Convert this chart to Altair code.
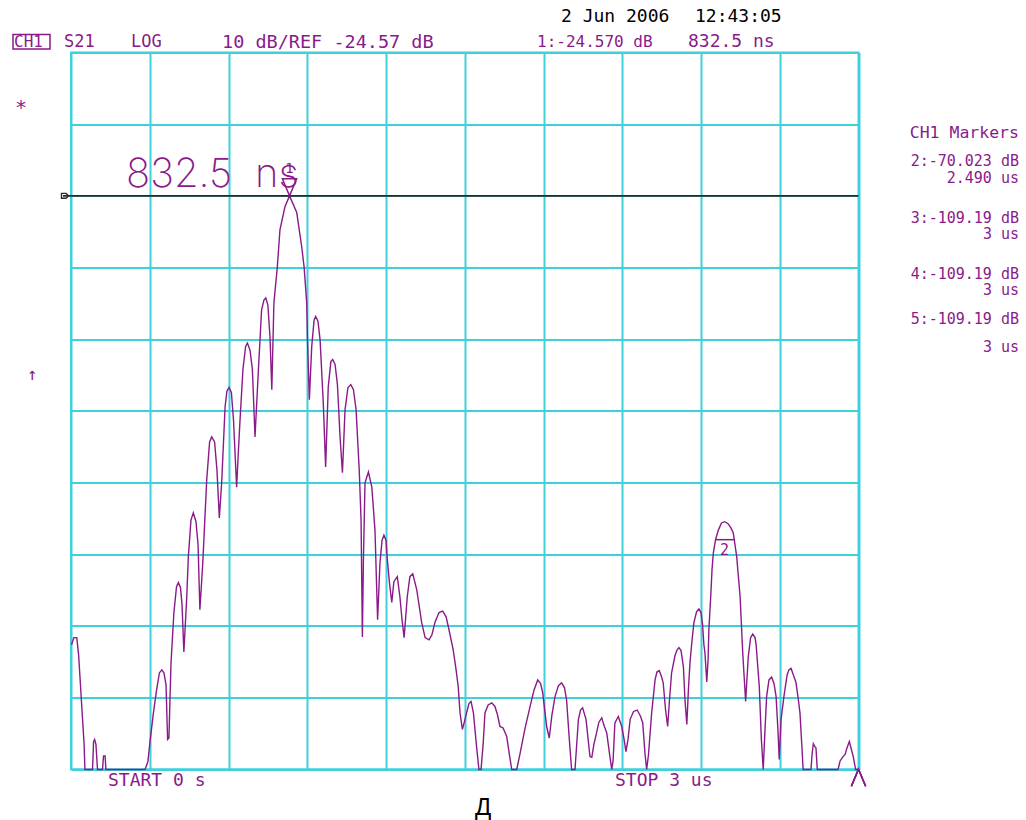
import altair as alt
import pandas as pd

# CH1 S21 time-domain response, LOG MAG, 10 dB/div
TIME_US = [
    0.002, 0.011, 0.022, 0.029, 0.041, 0.050, 0.053, 0.082, 0.086, 0.090,
    0.095, 0.101, 0.120, 0.124, 0.130, 0.133, 0.282, 0.293, 0.301, 0.314,
    0.326, 0.337, 0.346, 0.354, 0.362, 0.368, 0.373, 0.381, 0.392, 0.402,
    0.409, 0.417, 0.423, 0.430, 0.441, 0.447, 0.457, 0.466, 0.476, 0.484,
    0.491, 0.502, 0.517, 0.528, 0.536, 0.547, 0.556, 0.565, 0.574, 0.587,
    0.594, 0.602, 0.611, 0.619, 0.631, 0.638, 0.644, 0.655, 0.665, 0.672,
    0.682, 0.691, 0.701, 0.714, 0.726, 0.735, 0.742, 0.750, 0.758, 0.765,
    0.773, 0.786, 0.796, 0.815, 0.8325, 0.860, 0.879, 0.888, 0.898, 0.901,
    0.908, 0.917, 0.926, 0.932, 0.941, 0.949, 0.961, 0.970, 0.980, 0.990,
    0.997, 1.006, 1.015, 1.025, 1.034, 1.044, 1.055, 1.066, 1.076, 1.086,
    1.098, 1.105, 1.110, 1.114, 1.120, 1.133, 1.146, 1.158, 1.168, 1.177,
    1.185, 1.192, 1.200, 1.205, 1.213, 1.222, 1.230, 1.243, 1.253, 1.261,
    1.269, 1.281, 1.291, 1.302, 1.317, 1.336, 1.349, 1.364, 1.375, 1.387,
    1.402, 1.416, 1.429, 1.440, 1.456, 1.467, 1.475, 1.482, 1.491, 1.499,
    1.507, 1.516, 1.524, 1.533, 1.545, 1.554, 1.562, 1.570, 1.577, 1.589,
    1.603, 1.615, 1.625, 1.634, 1.646, 1.660, 1.670, 1.679, 1.698, 1.710,
    1.730, 1.749, 1.764, 1.778, 1.789, 1.797, 1.812, 1.822, 1.832, 1.844,
    1.857, 1.869, 1.880, 1.888, 1.897, 1.907, 1.920, 1.933, 1.941, 1.949,
    1.962, 1.977, 1.984, 1.992, 2.002, 2.011, 2.022, 2.030, 2.041, 2.053,
    2.060, 2.065, 2.072, 2.085, 2.098, 2.107, 2.114, 2.122, 2.130, 2.143,
    2.157, 2.170, 2.178, 2.187, 2.193, 2.200, 2.212, 2.225, 2.232, 2.241,
    2.250, 2.256, 2.265, 2.273, 2.280, 2.288, 2.301, 2.309, 2.316, 2.324,
    2.333, 2.339, 2.346, 2.352, 2.358, 2.366, 2.373, 2.383, 2.392, 2.400,
    2.406, 2.411, 2.415, 2.422, 2.427, 2.430, 2.437, 2.442, 2.447, 2.455,
    2.466, 2.478, 2.490, 2.503, 2.514, 2.523, 2.536, 2.549, 2.559, 2.570,
    2.580, 2.589, 2.597, 2.606, 2.610, 2.622, 2.630, 2.637, 2.643, 2.650,
    2.659, 2.669, 2.678, 2.686, 2.693, 2.698, 2.705, 2.716, 2.728, 2.735,
    2.743, 2.752, 2.762, 2.771, 2.777, 2.785, 2.789, 2.819, 2.823, 2.828,
    2.834, 2.838, 2.843, 2.922, 2.930, 2.941, 2.949, 2.956, 2.965, 2.973,
    2.980, 2.989, 3.000,
]
LEVEL_DB = [
    -87.2, -86.2, -86.2, -88.6, -95.8, -101.1, -104.6, -104.6, -100.7, -100.4,
    -101.1, -104.6, -104.6, -102.7, -102.7, -104.6, -104.6, -103.5, -100.7, -96.7,
    -93.5, -91.1, -90.7, -91.1, -92.8, -100.4, -100.2, -89.7, -82.7, -79.1,
    -78.5, -79.2, -81.6, -88.2, -80.5, -74.9, -69.8, -68.8, -70.0, -73.2,
    -82.3, -75.8, -64.2, -58.9, -58.2, -58.9, -62.8, -69.5, -64.6, -54.0,
    -51.8, -51.3, -52.0, -55.8, -65.2, -60.0, -55.8, -48.8, -45.6, -45.1,
    -46.1, -48.8, -58.2, -48.8, -40.5, -39.1, -38.8, -39.8, -44.2, -51.6,
    -39.5, -34.5, -29.3, -26.1, -24.57, -26.9, -31.7, -34.5, -39.5, -44.7,
    -53.0, -45.6, -41.9, -41.4, -42.1, -44.7, -53.4, -62.4, -51.2, -47.7,
    -47.4, -48.1, -50.9, -58.2, -63.2, -54.4, -51.3, -50.9, -51.6, -54.4,
    -62.8, -69.8, -86.1, -75.3, -64.6, -63.1, -65.2, -71.2, -83.7, -75.8,
    -72.6, -71.9, -72.6, -75.3, -78.5, -81.3, -78.4, -77.7, -80.5, -83.7,
    -86.2, -80.5, -77.7, -77.3, -79.5, -84.1, -86.2, -86.5, -85.8, -84.0,
    -82.7, -82.5, -83.3, -85.1, -87.9, -90.7, -93.0, -96.7, -99.0, -97.9,
    -96.7, -95.4, -95.1, -96.7, -101.4, -104.6, -104.6, -101.1, -96.7, -95.6,
    -95.3, -95.8, -97.0, -98.6, -98.8, -100.0, -102.5, -104.6, -104.6, -102.5,
    -98.8, -95.8, -93.5, -92.1, -92.6, -93.9, -98.6, -100.2, -97.0, -94.4,
    -92.9, -92.5, -93.2, -94.9, -99.7, -104.6, -104.6, -97.6, -96.3, -96.0,
    -97.6, -102.8, -102.9, -101.1, -99.5, -98.0, -97.4, -98.4, -99.5, -102.8,
    -104.6, -103.4, -98.1, -97.2, -98.6, -100.4, -102.1, -100.4, -97.6, -96.5,
    -96.3, -97.2, -98.1, -102.5, -104.6, -102.5, -96.7, -92.1, -91.0, -90.8,
    -91.7, -92.5, -96.3, -98.6, -94.9, -91.1, -88.7, -87.9, -87.6, -88.0,
    -90.3, -94.9, -98.3, -93.5, -89.7, -86.5, -84.1, -82.6, -82.2, -82.7,
    -84.4, -87.2, -88.3, -92.4, -89.3, -85.1, -80.5, -76.7, -74.4, -72.6,
    -71.2, -70.2, -70.023, -70.3, -70.9, -71.6, -74.9, -80.5, -88.3, -95.1,
    -88.9, -86.2, -85.7, -86.2, -87.2, -93.0, -100.4, -104.6, -99.7, -94.4,
    -92.1, -91.7, -92.6, -94.4, -99.0, -103.2, -97.6, -94.4, -91.4, -90.7,
    -90.5, -91.4, -92.5, -94.9, -96.7, -101.8, -104.6, -104.6, -102.5, -101.0,
    -101.4, -101.6, -104.6, -104.6, -103.4, -102.8, -102.5, -101.6, -100.7, -101.8,
    -102.8, -104.6, -104.6,
]

REF_DB = -24.57
DB_PER_DIV = 10
START_US, STOP_US = 0.0, 3.0

# Markers 1-2 on screen, 3-5 parked below the display floor at STOP
MARKER_ID = ["1", "2"]
MARKER_T = [0.8325, 2.490]
MARKER_DB = [-24.570, -70.023]
OFFSCALE_T = [3.0, 3.0, 3.0]
OFFSCALE_DB = [-109.19, -109.19, -109.19]

TOP_DB = REF_DB + 2 * DB_PER_DIV
BOTTOM_DB = REF_DB - 8 * DB_PER_DIV

# Display geometry (pixels)
LEFT, TOP = 71, 52.5
W, H = 787.5, 716.8
PAD_RIGHT = 1026 - LEFT - W
PAD_BOTTOM = 820 - TOP - H

PURPLE = "#8a1a8a"
CYAN = "#3fd0dc"
MONO = "DejaVu Sans Mono"
THIN = "Inter, Roboto, DejaVu Sans"

trace = pd.DataFrame({"t": TIME_US, "db": LEVEL_DB})
markers = pd.DataFrame({"id": MARKER_ID, "t": MARKER_T, "db": MARKER_DB})
offscale = pd.DataFrame({"t": OFFSCALE_T, "db": OFFSCALE_DB})
offscale["shown"] = offscale["db"].clip(lower=BOTTOM_DB)

x_scale = alt.Scale(domain=[START_US, STOP_US], nice=False, zero=False)
y_scale = alt.Scale(domain=[BOTTOM_DB, TOP_DB], nice=False, zero=False)

x_grid = [START_US + i * (STOP_US - START_US) / 10 for i in range(11)]
y_grid = [BOTTOM_DB + i * DB_PER_DIV for i in range(11)]

grid_axis = dict(grid=True, gridColor=CYAN, gridWidth=2, gridOpacity=1,
                 domain=False, ticks=False, labels=False, title=None)

X = alt.X("t:Q", scale=x_scale, axis=alt.Axis(values=x_grid, **grid_axis))
Y = alt.Y("db:Q", scale=y_scale, axis=alt.Axis(values=y_grid, **grid_axis))

line = alt.Chart(trace).mark_line(color=PURPLE, strokeWidth=1.4,
                                  interpolate="linear").encode(x=X, y=Y)

ref_line = alt.Chart(alt.Data(values=[{"ref": REF_DB}])).mark_rule(
    color="#2b2b2b", strokeWidth=1.6
).encode(y=alt.Y("ref:Q", scale=y_scale), x=alt.value(-8), x2=alt.value(W))

ref_pointer = alt.Chart(alt.Data(values=[{"ref": REF_DB}])).mark_point(
    shape="M-1,-0.7L0.3,-0.7L1,0L0.3,0.7L-1,0.7Z", size=49, filled=False,
    color="#2b2b2b", strokeWidth=1.4, opacity=1
).encode(y=alt.Y("ref:Q", scale=y_scale), x=alt.value(-6))

m1 = markers[markers["id"] == "1"]
m2 = markers[markers["id"] == "2"]

m1_symbol = alt.Chart(m1).mark_point(
    shape="M-0.42,-1L0.42,-1L0,0Z", size=1156, filled=False,
    color=PURPLE, strokeWidth=1.5, opacity=1
).encode(x=alt.X("t:Q", scale=x_scale), y=alt.Y("db:Q", scale=y_scale))

m1_label = alt.Chart(m1).mark_text(
    font=MONO, fontSize=14, color=PURPLE, dy=-27, baseline="middle"
).encode(x=alt.X("t:Q", scale=x_scale), y=alt.Y("db:Q", scale=y_scale),
         text="id:N")

m2_symbol = alt.Chart(m2).mark_point(
    shape="M-0.53,1L0.53,1", size=1296, filled=False,
    color=PURPLE, strokeWidth=1.5, opacity=1
).encode(x=alt.X("t:Q", scale=x_scale), y=alt.Y("db:Q", scale=y_scale))

m2_label = alt.Chart(m2).mark_text(
    font=MONO, fontSize=15, color=PURPLE, dy=28, baseline="middle"
).encode(x=alt.X("t:Q", scale=x_scale), y=alt.Y("db:Q", scale=y_scale),
         text="id:N")

offscale_symbol = alt.Chart(offscale).mark_point(
    shape="M-0.42,1L0,0L0.42,1", size=1156, filled=False,
    color=PURPLE, strokeWidth=1.5, opacity=1
).encode(x=alt.X("t:Q", scale=x_scale), y=alt.Y("shown:Q", scale=y_scale))


def note(text, px, py, size=17, color=PURPLE, align="left", font=MONO,
         weight=400):
    """Screen annotation placed in display pixels."""
    return alt.Chart(alt.Data(values=[{}])).mark_text(
        text=text, align=align, baseline="middle", fontSize=size,
        font=font, color=color, fontWeight=weight
    ).encode(x=alt.value(px - LEFT), y=alt.value(py - TOP))


ch1_box = alt.Chart(alt.Data(values=[{}])).mark_rect(
    fill=None, stroke=PURPLE, strokeWidth=1.5
).encode(x=alt.value(13 - LEFT), x2=alt.value(50 - LEFT),
         y=alt.value(34.5 - TOP), y2=alt.value(49 - TOP))

notes = [
    note("2 Jun 2006", 561, 17, color="black", size=18),
    note("12:43:05", 695, 17, color="black", size=18),
    note("CH1", 14, 42, size=16),
    note("S21", 64, 42),
    note("LOG", 131, 42),
    note("10 dB/REF -24.57 dB", 222, 42, size=18.5),
    note("1:-24.570 dB", 537, 42, size=16),
    note("832.5 ns", 688, 42, size=18),
    # active-marker stimulus readout, drawn large in the graticule
    note("832.5", 126, 175, size=40, font=THIN, weight=200),
    note("ns", 255, 175, size=40, font=THIN, weight=200),
    note("*", 15, 108, size=20),
    note("\u2191", 27, 375, size=17),
    note("CH1 Markers", 1019, 133, size=16.5, align="right"),
    note("2:-70.023 dB", 1019, 161, size=15, align="right"),
    note("2.490 us", 1019, 177.5, size=15, align="right"),
    note("3:-109.19 dB", 1019, 218, size=15, align="right"),
    note("3 us", 1019, 234, size=15, align="right"),
    note("4:-109.19 dB", 1019, 274, size=15, align="right"),
    note("3 us", 1019, 290, size=15, align="right"),
    note("5:-109.19 dB", 1019, 319, size=15, align="right"),
    note("3 us", 1019, 347, size=15, align="right"),
    note("START 0 s", 108, 781, size=18),
    note("STOP 3 us", 615, 781, size=18),
    note("\u0414", 483, 808, size=24, color="black", align="center",
         font="Liberation Sans"),
]

chart = alt.layer(
    line, ref_line, ref_pointer,
    m1_symbol, m1_label, m2_symbol, m2_label, offscale_symbol,
    ch1_box, *notes,
).properties(
    width=W, height=H,
    autosize=alt.AutoSizeParams(type="none"),
    padding={"left": LEFT, "top": TOP, "right": PAD_RIGHT, "bottom": PAD_BOTTOM},
    background="white",
).configure_view(stroke=CYAN, strokeWidth=2)

chart.save("out.html", embed_options={"renderer": "svg", "actions": False})
